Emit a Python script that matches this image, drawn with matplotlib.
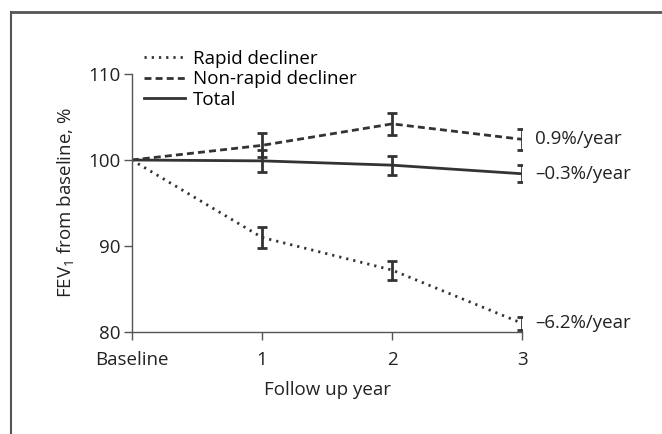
import matplotlib.pyplot as plt
import numpy as np

plt.rcParams['font.family'] = ['Open Sans', 'DejaVu Sans']
plt.rcParams['mathtext.default'] = 'regular'

years = [0, 1, 2, 3]
year_labels = ['Baseline', '1', '2', '3']

rapid = [100, 91.0, 87.2, 81.0]
rapid_err = [0, 1.2, 1.1, 0.8]
nonrapid = [100, 101.7, 104.2, 102.4]
nonrapid_err = [0, 1.4, 1.3, 1.2]
total = [100, 99.9, 99.4, 98.4]
total_err = [0, 1.3, 1.1, 1.0]

slopes = ['0.9%/year', '\u20130.3%/year', '\u20136.2%/year']

col = '#333333'
fs = 13.5

fig = plt.figure(figsize=(6.62, 4.34), dpi=100)
ax = fig.add_axes([0.199, 0.235, 0.59, 0.5945])

def draw(y, err, ls, label):
    ax.plot(years, y, color=col, ls=ls, lw=2, label=label)
    ax.errorbar(years[1:], y[1:], yerr=err[1:], fmt='none', ecolor=col,
                elinewidth=2, capsize=3.8, capthick=2)

draw(rapid, rapid_err, (0, (0.8, 1.8)), 'Rapid decliner')
draw(nonrapid, nonrapid_err, (0, (2.5, 1.5)), 'Non-rapid decliner')
draw(total, total_err, '-', 'Total')

ax.text(3.1, nonrapid[-1], slopes[0], va='center', ha='left', fontsize=fs, color='#222222')
ax.text(3.1, total[-1], slopes[1], va='center', ha='left', fontsize=fs, color='#222222')
ax.text(3.1, rapid[-1], slopes[2], va='center', ha='left', fontsize=fs, color='#222222')

ax.set_xlim(0, 3)
ax.set_ylim(80, 110)
ax.set_xticks(years)
ax.set_xticklabels(year_labels)
ax.set_yticks([80, 90, 100, 110])
ax.tick_params(labelsize=fs, length=6, width=1, color='#555555', labelcolor='#222222')
ax.tick_params(axis='x', pad=8)
ax.tick_params(axis='y', pad=2)
for s in ['top', 'right']:
    ax.spines[s].set_visible(False)
for s in ['left', 'bottom']:
    ax.spines[s].set_color('#555555')
    ax.spines[s].set_linewidth(1)

ax.set_xlabel('Follow up year', fontsize=fs, color='#222222', labelpad=8)
ax.set_ylabel('FEV$_1$ from baseline, %', fontsize=fs, color='#222222', labelpad=9)

leg = ax.legend(loc='upper left', bbox_to_anchor=(0.012, 1.122), frameon=False,
                fontsize=fs, handlelength=2.2, handletextpad=0.4,
                labelspacing=0.12, borderaxespad=0)

# figure frame on top and left
fig.add_artist(plt.Line2D([11/662, 11/662], [0, 1 - 12/434], color='#555555', lw=1.5))
fig.add_artist(plt.Line2D([11/662, 1], [1 - 12/434, 1 - 12/434], color='#555555', lw=2))

plt.savefig('out.png', dpi=100)
